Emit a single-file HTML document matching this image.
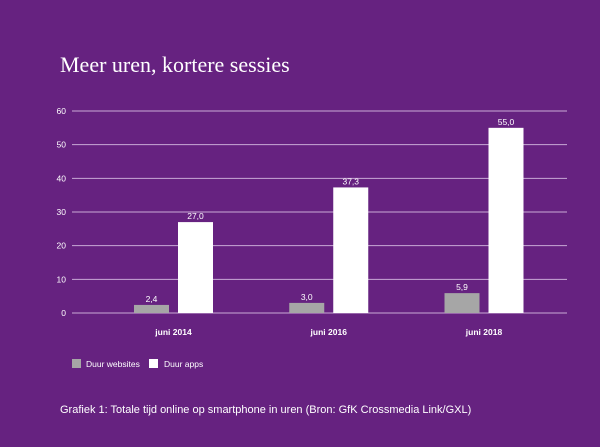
<!DOCTYPE html>
<html><head><meta charset="utf-8"><style>
html,body{margin:0;padding:0;background:#662280;}
svg{display:block;font-family:"Liberation Sans",sans-serif;}
</style></head><body>
<svg id="chart" width="600" height="447" viewBox="0 0 600 447">
<rect x="0" y="0" width="600" height="447" fill="#662280"/>
<text x="60" y="72" fill="#ffffff" font-family="Liberation Serif, serif" font-size="22">Meer uren, kortere sessies</text>
<g id="grid"></g><g id="bars"></g>
<rect x="72" y="359" width="9" height="9" fill="#a6a6a6"/>
<text x="86" y="367" fill="#fff" font-size="8.5">Duur websites</text>
<rect x="149" y="359" width="9" height="9" fill="#ffffff"/>
<text x="164" y="367" fill="#fff" font-size="8.5">Duur apps</text>
<text x="60" y="413" fill="#ffffff" font-size="11">Grafiek 1: Totale tijd online op smartphone in uren (Bron: GfK Crossmedia Link/GXL)</text>
</svg>
<script>
const categories = ["juni 2014","juni 2016","juni 2018"];
const websites = [2.4, 3.0, 5.9];
const apps = [27.0, 37.3, 55.0];
const websiteLabels = ["2,4","3,0","5,9"];
const appLabels = ["27,0","37,3","55,0"];
const ticks = [0,10,20,30,40,50,60];

const NS="http://www.w3.org/2000/svg";
const y0=313, yTop=111, vMax=60, xL=72, xR=567, gx0=173.5, gstep=155.25, bw=35, gap=9;
const y = v => y0 - (v/vMax)*(y0-yTop);
const xc = i => gx0 + i*gstep;
function mk(tag, attrs, parent){const e=document.createElementNS(NS,tag);for(const k in attrs)e.setAttribute(k,attrs[k]);parent.appendChild(e);return e;}
const grid=document.getElementById('grid'), bars=document.getElementById('bars');
ticks.forEach(t=>{
  const l=mk('line',{x1:xL,x2:xR,y1:y(t),y2:y(t),stroke:'#c9a9d6','stroke-width':1},grid);
  
  
  const tx=mk('text',{x:66,y:y(t)+3,fill:'#fff','font-size':8.5,'text-anchor':'end'},grid);
  tx.textContent=t;
  
  
});
categories.forEach((c,i)=>{
  const xw=xc(i)-gap/2-bw, xa=xc(i)+gap/2;
  const b1=mk('rect',{x:xw,y:y(websites[i]),width:bw,height:y0-y(websites[i]),fill:'#a6a6a6'},bars);
  
  
  const b2=mk('rect',{x:xa,y:y(apps[i]),width:bw,height:y0-y(apps[i]),fill:'#ffffff'},bars);
  
  
  const l1=mk('text',{x:xw+bw/2,y:y(websites[i])-3,fill:'#fff','font-size':8.5,'text-anchor':'middle'},bars);
  l1.textContent=websiteLabels[i];
  
  
  const l2=mk('text',{x:xa+bw/2,y:y(apps[i])-3,fill:'#fff','font-size':8.5,'text-anchor':'middle'},bars);
  l2.textContent=appLabels[i];
  
  
  const cl=mk('text',{x:xc(i),y:335,fill:'#fff','font-size':8.5,'font-weight':'bold','text-anchor':'middle'},bars);
  cl.textContent=c;
  
  
});
</script>
</body></html>
